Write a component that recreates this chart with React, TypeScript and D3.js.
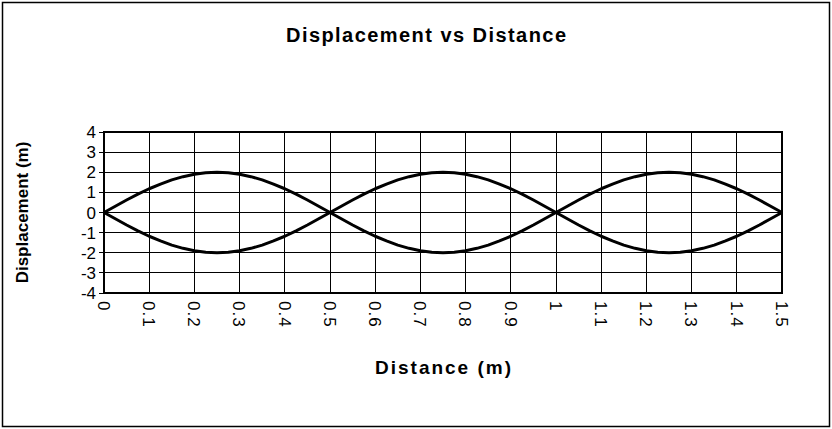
import { useEffect, useRef } from 'react';
import * as d3 from 'd3';

const distances = [
  0, 0.025, 0.05, 0.075, 0.1, 0.125, 0.15, 0.175, 0.2, 0.225,
  0.25, 0.275, 0.3, 0.325, 0.35, 0.375, 0.4, 0.425, 0.45, 0.475,
  0.5, 0.525, 0.55, 0.575, 0.6, 0.625, 0.65, 0.675, 0.7, 0.725,
  0.75, 0.775, 0.8, 0.825, 0.85, 0.875, 0.9, 0.925, 0.95, 0.975,
  1, 1.025, 1.05, 1.075, 1.1, 1.125, 1.15, 1.175, 1.2, 1.225,
  1.25, 1.275, 1.3, 1.325, 1.35, 1.375, 1.4, 1.425, 1.45, 1.475, 1.5,
];

const upperWave = [
  0, 0.31, 0.62, 0.91, 1.18, 1.41, 1.62, 1.78, 1.9, 1.98,
  2, 1.98, 1.9, 1.78, 1.62, 1.41, 1.18, 0.91, 0.62, 0.31,
  0, -0.31, -0.62, -0.91, -1.18, -1.41, -1.62, -1.78, -1.9, -1.98,
  -2, -1.98, -1.9, -1.78, -1.62, -1.41, -1.18, -0.91, -0.62, -0.31,
  0, 0.31, 0.62, 0.91, 1.18, 1.41, 1.62, 1.78, 1.9, 1.98,
  2, 1.98, 1.9, 1.78, 1.62, 1.41, 1.18, 0.91, 0.62, 0.31, 0,
];

const lowerWave = [
  0, -0.31, -0.62, -0.91, -1.18, -1.41, -1.62, -1.78, -1.9, -1.98,
  -2, -1.98, -1.9, -1.78, -1.62, -1.41, -1.18, -0.91, -0.62, -0.31,
  0, 0.31, 0.62, 0.91, 1.18, 1.41, 1.62, 1.78, 1.9, 1.98,
  2, 1.98, 1.9, 1.78, 1.62, 1.41, 1.18, 0.91, 0.62, 0.31,
  0, -0.31, -0.62, -0.91, -1.18, -1.41, -1.62, -1.78, -1.9, -1.98,
  -2, -1.98, -1.9, -1.78, -1.62, -1.41, -1.18, -0.91, -0.62, -0.31, 0,
];

const xTicks = [0, 0.1, 0.2, 0.3, 0.4, 0.5, 0.6, 0.7, 0.8, 0.9, 1, 1.1, 1.2, 1.3, 1.4, 1.5];
const yTicks = [-4, -3, -2, -1, 0, 1, 2, 3, 4];

const W = 832;
const H = 429;
const FONT = '"Liberation Sans", Arial, sans-serif';

export default function App() {
  const svgRef = useRef<SVGSVGElement>(null);

  useEffect(() => {
    if (!svgRef.current) return;
    const svg = d3.select(svgRef.current);
    svg.selectAll('*').remove();

    const margin = { top: 132, right: 50, bottom: 136, left: 104 };
    const width = W - margin.left - margin.right;
    const height = H - margin.top - margin.bottom;

    svg.append('rect')
      .attr('x', 2.5).attr('y', 2.5)
      .attr('width', W - 5).attr('height', H - 5)
      .attr('fill', 'white')
      .attr('stroke', 'black')
      .attr('stroke-width', 1.5);

    svg.append('text')
      .attr('x', 426)
      .attr('y', 42)
      .attr('text-anchor', 'middle')
      .attr('font-family', FONT)
      .attr('font-weight', 'bold')
      .attr('font-size', '20px')
      .attr('textLength', 280)
      .attr('lengthAdjust', 'spacing')
      .text('Displacement vs Distance');

    const g = svg.append('g').attr('transform', `translate(${margin.left},${margin.top})`);

    const x = d3.scaleLinear().domain([0, 1.5]).range([0, width]);
    const y = d3.scaleLinear().domain([-4, 4]).range([height, 0]);

    // grid
    g.append('g')
      .selectAll('line')
      .data(xTicks)
      .join('line')
      .attr('x1', d => x(d)).attr('x2', d => x(d))
      .attr('y1', 0).attr('y2', height)
      .attr('stroke', 'black')
      .attr('stroke-width', 1)
      .attr('shape-rendering', 'crispEdges');

    g.append('g')
      .selectAll('line')
      .data(yTicks)
      .join('line')
      .attr('x1', -5).attr('x2', width)
      .attr('y1', d => y(d)).attr('y2', d => y(d))
      .attr('stroke', 'black')
      .attr('stroke-width', 1)
      .attr('shape-rendering', 'crispEdges');

    g.append('rect')
      .attr('x', 0).attr('y', 0)
      .attr('width', width).attr('height', height)
      .attr('fill', 'none')
      .attr('stroke', 'black')
      .attr('stroke-width', 2);

    // y tick labels
    g.append('g')
      .selectAll('text')
      .data(yTicks)
      .join('text')
      .attr('x', -8)
      .attr('y', d => y(d))
      .attr('dy', '0.36em')
      .attr('text-anchor', 'end')
      .attr('font-family', FONT)
      .attr('font-size', '17px')
      .text(d => String(d));

    // x tick labels, rotated
    g.append('g')
      .selectAll('text')
      .data(xTicks)
      .join('text')
      .attr('transform', d => `translate(${x(d)},${height + 8}) rotate(90)`)
      .attr('dy', '0.36em')
      .attr('text-anchor', 'start')
      .attr('font-family', FONT)
      .attr('font-size', '17px')
      .attr('letter-spacing', '1px')
      .text(d => String(d));

    svg.append('text')
      .attr('x', 443)
      .attr('y', 374)
      .attr('text-anchor', 'middle')
      .attr('font-family', FONT)
      .attr('font-weight', 'bold')
      .attr('font-size', '19px')
      .attr('textLength', 136)
      .attr('lengthAdjust', 'spacing')
      .text('Distance (m)');

    svg.append('text')
      .attr('transform', `translate(28,${margin.top + height / 2}) rotate(-90)`)
      .attr('text-anchor', 'middle')
      .attr('font-family', FONT)
      .attr('font-weight', 'bold')
      .attr('font-size', '17px')
      .text('Displacement (m)');

    const line = d3.line<number>()
      .x((_, i) => x(distances[i]))
      .y(d => y(d));

    [upperWave, lowerWave].forEach(series => {
      g.append('path')
        .datum(series)
        .attr('fill', 'none')
        .attr('stroke', 'black')
        .attr('stroke-width', 3)
        .attr('stroke-linejoin', 'round')
        .attr('d', line);
    });
  }, []);

  return (
    <svg
      ref={svgRef}
      width={W}
      height={H}
      style={{ position: 'absolute', left: 0, top: 0, background: 'white' }}
    />
  );
}
